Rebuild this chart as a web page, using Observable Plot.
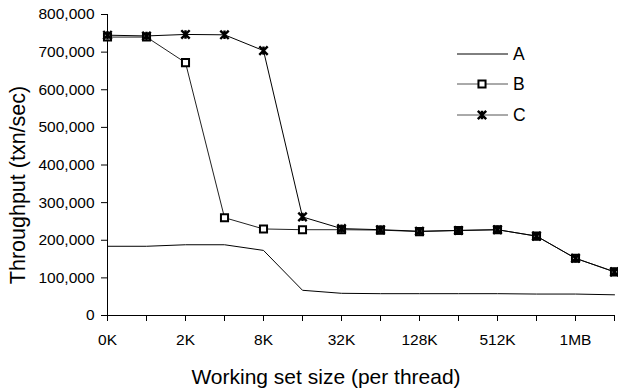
<!DOCTYPE html>
<html>
<head>
<meta charset="utf-8">
<script src="https://cdn.jsdelivr.net/npm/d3@7"></script>
<script src="https://cdn.jsdelivr.net/npm/@observablehq/plot@0.6"></script>
<style>
  html, body { margin: 0; padding: 0; background: #fff; }
  #wrap { position: relative; width: 618px; height: 391px; font-family: "Liberation Sans", Arial, sans-serif; }
  #legend { position: absolute; left: 0; top: 0; }
</style>
</head>
<body>
<div id="wrap"></div>
<script>
// ---- data ----
const xIndex = [0, 1, 2, 3, 4, 5, 6, 7, 8, 9, 10, 11, 12, 13];
const xTickPositions = [0, 2, 4, 6, 8, 10, 12];
const xTickLabels = ["0K", "2K", "8K", "32K", "128K", "512K", "1MB"];
const yTicks = [0, 100000, 200000, 300000, 400000, 500000, 600000, 700000, 800000];
const seriesNames = ["A", "B", "C"];
const seriesA = [184000, 184000, 188000, 188000, 173000, 67000, 59000, 58000, 58000, 58000, 58000, 57000, 57000, 55000];
const seriesB = [740000, 740000, 672000, 260000, 230000, 228000, 228000, 227000, 223000, 226000, 228000, 211000, 152000, 116000];
const seriesC = [745000, 743000, 747000, 746000, 704000, 262000, 231000, 228000, 224000, 226000, 228000, 211000, 152000, 116000];
const xTitle = "Working set size (per thread)";
const yTitle = "Throughput (txn/sec)";

const rows = (name, vals) => vals.map((v, i) => ({series: name, x: xIndex[i], y: v}));
const dataA = rows("A", seriesA);
const dataB = rows("B", seriesB);
const dataC = rows("C", seriesC);

const labelMap = new Map(xTickPositions.map((p, i) => [p, xTickLabels[i]]));

// Excel-like star marker: X with a vertical bar
const star = {
  draw(ctx, size) {
    const r = Math.sqrt(size / Math.PI);
    ctx.moveTo(-r, -r); ctx.lineTo(r, r);
    ctx.moveTo(r, -r); ctx.lineTo(-r, r);
    ctx.moveTo(0, -r); ctx.lineTo(0, r);
  }
};

const chart = Plot.plot({
  width: 618,
  height: 391,
  marginLeft: 107,
  marginRight: 4,
  marginTop: 14,
  marginBottom: 76,
  style: {fontFamily: "Liberation Sans, Arial, sans-serif", fontSize: "15px", color: "#000", background: "#fff"},
  x: {domain: [0, 13]},
  y: {domain: [0, 800000]},
  marks: [
    Plot.axisY({ticks: yTicks, tickFormat: d3.format(","), tickSize: 6, tickPadding: 7, fontSize: 15.5, label: null, stroke: "#000"}),
    Plot.axisX({ticks: xIndex, tickFormat: d => labelMap.get(d) ?? "", tickSize: 6, tickPadding: 12, fontSize: 15.5, label: null, stroke: "#000"}),
    Plot.ruleX([0], {stroke: "#000", strokeWidth: 1}),
    Plot.ruleY([0], {stroke: "#000", strokeWidth: 1}),
    Plot.line(dataA, {x: "x", y: "y", stroke: "#000", strokeWidth: 1}),
    Plot.line(dataB, {x: "x", y: "y", stroke: "#222", strokeWidth: 1}),
    Plot.dot(dataB, {x: "x", y: "y", symbol: "square", r: 4, stroke: "#000", strokeWidth: 2, fill: "#fff"}),
    Plot.line(dataC, {x: "x", y: "y", stroke: "#000", strokeWidth: 1}),
    Plot.dot(dataC, {x: "x", y: "y", symbol: star, r: 4.2, stroke: "#000", strokeWidth: 2.4}),
    Plot.text([xTitle], {frameAnchor: "bottom", dx: -35, dy: 68, fontSize: 21, textAnchor: "middle", lineAnchor: "bottom"}),
    Plot.text([yTitle], {frameAnchor: "left", rotate: -90, dx: -89, dy: 20, fontSize: 21.5, textAnchor: "middle", lineAnchor: "middle"})
  ]
});
document.getElementById("wrap").appendChild(chart);

// legend overlay
const lg = d3.select("#wrap").append("svg").attr("id", "legend").attr("width", 618).attr("height", 391);
const legendY = [54, 84, 115];
const symGen = {
  B: d3.symbol(d3.symbolSquare, Math.PI * 16),
  C: d3.symbol(star, Math.PI * 17.6)
};
seriesNames.forEach((name, i) => {
  const g = lg.append("g").attr("transform", `translate(0,${legendY[i]})`);
  g.append("line").attr("x1", 457).attr("x2", 508).attr("y1", 0).attr("y2", 0)
    .attr("stroke", name === "A" ? "#000" : "#555").attr("stroke-width", 1);
  if (name === "B") {
    g.append("path").attr("d", symGen.B()).attr("transform", "translate(482,0)")
      .attr("fill", "#fff").attr("stroke", "#000").attr("stroke-width", 2);
  } else if (name === "C") {
    g.append("path").attr("d", symGen.C()).attr("transform", "translate(482,0)")
      .attr("fill", "none").attr("stroke", "#000").attr("stroke-width", 2.4);
  }
  g.append("text").attr("x", 513).attr("y", 0).attr("dy", "0.35em")
    .attr("font-size", 17.5).attr("font-family", "Liberation Sans, Arial, sans-serif").text(name);
});
</script>
</body>
</html>
